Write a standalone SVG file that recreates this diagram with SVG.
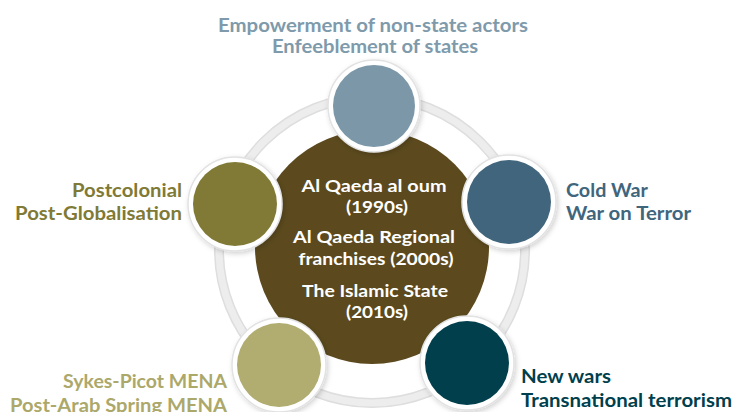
<svg xmlns="http://www.w3.org/2000/svg" width="737" height="412" viewBox="0 0 737 412">
  <defs>
    <filter id="sh" x="-30%" y="-30%" width="160%" height="160%">
      <feDropShadow dx="1.5" dy="2" stdDeviation="2.5" flood-color="#000" flood-opacity="0.18"/>
    </filter>
    <style>
      .lbl { font-family: Lato, "Open Sans", "DejaVu Sans", sans-serif; font-weight: bold; }
      .ctr { font-family: Lato, "Open Sans", "DejaVu Sans", sans-serif; font-weight: bold; fill: #ffffff; font-size: 17.5px; text-anchor: middle; }
      .rim { fill: #ffffff; stroke: #e2e2e3; stroke-width: 1.5; filter: url(#sh); }
    </style>
  </defs>
  <rect width="737" height="412" fill="#ffffff"/>

  <g id="connectors">
    <circle cx="372" cy="250" r="153" fill="none" stroke="#dedede" stroke-width="10"/>
    <circle cx="372" cy="250" r="153" fill="none" stroke="#ededee" stroke-width="7"/>
  </g>

  <g id="center">
    <circle cx="372" cy="247" r="117" fill="#5c4a1e"/>
    <text class="ctr" x="374" y="192" textLength="145" lengthAdjust="spacingAndGlyphs">Al Qaeda al oum</text>
    <text class="ctr" x="377" y="213" textLength="62" lengthAdjust="spacingAndGlyphs">(1990s)</text>
    <text class="ctr" x="374" y="243" textLength="162" lengthAdjust="spacingAndGlyphs">Al Qaeda Regional</text>
    <text class="ctr" x="376" y="265" textLength="155" lengthAdjust="spacingAndGlyphs">franchises (2000s)</text>
    <text class="ctr" x="375" y="297" textLength="146" lengthAdjust="spacingAndGlyphs">The Islamic State</text>
    <text class="ctr" x="377" y="318" textLength="62" lengthAdjust="spacingAndGlyphs">(2010s)</text>
  </g>

  <g id="node-top">
    <circle class="rim" cx="374" cy="106" r="46"/>
    <circle cx="374" cy="106" r="41" fill="#7b97a8"/>
    <text class="lbl" x="373" y="32" font-size="19.5" fill="#7e9aab" text-anchor="middle" textLength="310" lengthAdjust="spacingAndGlyphs">Empowerment of non-state actors</text>
    <text class="lbl" x="375" y="53" font-size="19.5" fill="#7e9aab" text-anchor="middle" textLength="206" lengthAdjust="spacingAndGlyphs">Enfeeblement of states</text>
  </g>

  <g id="node-right-top">
    <circle class="rim" cx="509" cy="202" r="47"/>
    <circle cx="509" cy="202" r="42" fill="#40657c"/>
    <text class="lbl" x="566" y="197" font-size="18" fill="#40667e" textLength="82" lengthAdjust="spacingAndGlyphs">Cold War</text>
    <text class="lbl" x="566" y="220" font-size="18" fill="#40667e" textLength="125" lengthAdjust="spacingAndGlyphs">War on Terror</text>
  </g>

  <g id="node-left-top">
    <circle class="rim" cx="235" cy="204" r="47"/>
    <circle cx="235" cy="204" r="42" fill="#807a36"/>
    <text class="lbl" x="182" y="197" font-size="18" fill="#7f7a35" text-anchor="end" textLength="110" lengthAdjust="spacingAndGlyphs">Postcolonial</text>
    <text class="lbl" x="182" y="220" font-size="18" fill="#7f7a35" text-anchor="end" textLength="167" lengthAdjust="spacingAndGlyphs">Post-Globalisation</text>
  </g>

  <g id="node-left-bottom">
    <circle class="rim" cx="279" cy="365" r="47"/>
    <circle cx="279" cy="365" r="42" fill="#b1ac70"/>
    <text class="lbl" x="227" y="388" font-size="18" fill="#aca86a" text-anchor="end" textLength="164" lengthAdjust="spacingAndGlyphs">Sykes-Picot MENA</text>
    <text class="lbl" x="227" y="412" font-size="18" fill="#aca86a" text-anchor="end" textLength="217" lengthAdjust="spacingAndGlyphs">Post-Arab Spring MENA</text>
  </g>

  <g id="node-right-bottom">
    <circle class="rim" cx="467" cy="363" r="47"/>
    <circle cx="467" cy="363" r="42" fill="#013f4d"/>
    <text class="lbl" x="521" y="383" font-size="18" fill="#003f4d" textLength="90" lengthAdjust="spacingAndGlyphs">New wars</text>
    <text class="lbl" x="521" y="407" font-size="18" fill="#003f4d" textLength="211" lengthAdjust="spacingAndGlyphs">Transnational terrorism</text>
  </g>
</svg>
